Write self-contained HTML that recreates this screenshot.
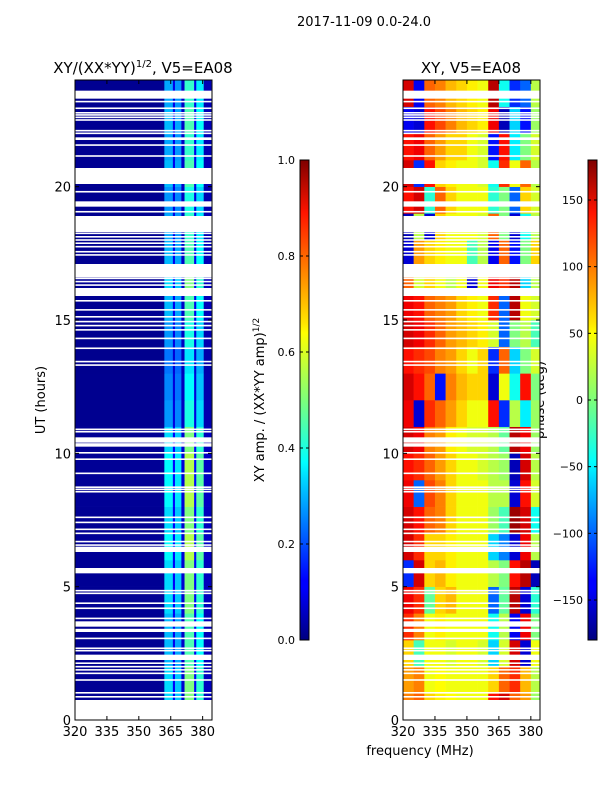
<!DOCTYPE html>
<html><head><meta charset="utf-8"><style>
body{margin:0;background:#fff;}
svg{display:block;font-family:"DejaVu Sans","Liberation Sans",sans-serif;}
</style></head><body>
<svg id="fig" width="600" height="800" viewBox="0 0 600 800">
<defs>
<linearGradient id="jet" x1="0" y1="1" x2="0" y2="0">
<stop offset="0" stop-color="#00007f"/><stop offset="0.11" stop-color="#0000ff"/>
<stop offset="0.125" stop-color="#0000ff"/><stop offset="0.34" stop-color="#00dcff"/>
<stop offset="0.37" stop-color="#0ff"/><stop offset="0.5" stop-color="#7dff7a"/>
<stop offset="0.64" stop-color="#ff0"/><stop offset="0.66" stop-color="#ffe600"/>
<stop offset="0.89" stop-color="#ff1400"/><stop offset="1" stop-color="#7f0000"/>
</linearGradient>
</defs>
<text x="364" y="26" font-size="13" text-anchor="middle">2017-11-09 0.0-24.0</text>
<text x="143" y="73" font-size="15" text-anchor="middle">XY/(XX*YY)<tspan font-size="10" dy="-6">1/2</tspan><tspan dy="6">, V5=EA08</tspan></text>
<text x="471" y="73" font-size="15" text-anchor="middle">XY, V5=EA08</text>
<text x="45" y="400" font-size="13" text-anchor="middle" transform="rotate(-90 45 400)">UT (hours)</text>
<text x="420" y="755" font-size="13" text-anchor="middle">frequency (MHz)</text>
<text x="264" y="400" font-size="13" text-anchor="middle" transform="rotate(-90 264 400)">XY amp. / (XX*YY amp)<tspan font-size="9" dy="-5">1/2</tspan></text>
<text x="544" y="400" font-size="13" text-anchor="middle" transform="rotate(-90 544 400)">phase (deg)</text>
<g id="left"></g><g id="right"></g><g id="cbars"></g>
</svg>
<script>
const hours=[0,1,2,3,4,5,6,7,8,9,10,11,12,13,14,15,16,17,18,19,20,21,22,23];
const ampFreqEdges=[320,362,366,367,370,371.5,376,377,380.5,384];
const ampCols=[0.02,0.34,0.12,0.32,0.08,0.5,0.12,0.42,0.06];
const ampHourGain=[1,1,0.9,0.9,1,1,1.1,1,1.1,1.1,1,0.8,0.75,0.7,0.8,0.9,1,0.9,0.85,0.8,0.9,0.85,0.9,0.85];
const phaseFreqs=[320,325,330,335,340,345,350,355,360,365,370,375,380];
const phase=[
[90,100,60,50,45,40,40,40,130,150,100,80,10],
[80,90,40,45,40,40,40,40,60,100,120,70,20],
[60,-20,40,40,30,40,40,30,-60,30,150,-150,40],
[120,90,40,50,40,40,40,40,-40,20,-140,140,0],
[140,120,-10,60,70,40,40,40,-100,-10,160,-150,-30],
[-120,150,60,70,50,40,40,40,20,0,130,160,-160],
[150,120,60,60,50,40,40,40,-60,-90,-150,140,20],
[150,130,100,90,60,40,40,40,10,-20,170,150,-40],
[140,-100,110,90,60,40,40,40,20,20,-150,130,30],
[130,120,100,80,60,40,40,30,20,10,-160,150,20],
[150,140,90,80,50,40,30,30,20,-10,160,140,10],
[140,-150,120,100,80,60,40,40,130,-120,20,-50,10],
[150,130,100,-130,90,70,60,60,-150,40,-40,130,0],
[130,120,110,90,80,60,40,60,-120,100,-60,0,30],
[150,140,120,100,80,70,60,50,30,-100,0,20,-20],
[140,130,100,90,80,60,50,40,120,-100,160,40,30],
[100,30,60,40,20,40,-150,40,140,120,160,-60,20],
[-150,80,60,50,40,40,-20,20,-140,100,-130,0,60],
[-160,20,-150,60,40,40,40,30,100,0,-150,-40,20],
[130,150,-30,100,60,40,40,40,-30,0,-100,60,30],
[150,-120,130,60,50,40,40,30,-40,120,40,100,20],
[130,140,100,80,60,60,40,30,-130,130,-50,0,30],
[-140,-150,130,110,90,70,60,50,140,-160,-60,-130,10],
[150,-140,100,90,70,60,50,40,160,-40,-120,-100,20]];
const gapStart=[23.3,21.75,20.1,19.25,18.3,16.6,15.9,10.4,10.25,6.3,5.5,3.5,3.3,2.25,0];
const gapEnd=[23.6,21.85,20.7,19.45,18.9,17.1,16.2,10.6,10.38,6.5,5.7,3.7,3.42,2.45,0.75];
const thinGaps=[23.19,22.94,22.77,22.69,22.6,22.5,22.1,22.0,21.56,21.15,19.81,19.06,18.25,18.12,18.0,17.88,17.75,17.56,17.44,16.56,16.44,16.31,15.72,15.38,15.12,14.94,14.79,14.63,14.31,13.94,13.44,13.31,10.9,10.81,10.02,9.78,9.25,8.73,8.65,8.56,7.6,7.41,7.15,7.0,6.69,6.56,4.85,4.75,4.38,4.19,3.81,3.06,2.69,2.6,2.13,2.0,1.88,1.75,1.5,1.02,0.87];
const yTicks=[0,5,10,15,20];
const xTicks=[320,335,350,365,380];
const ampTicks=[0.0,0.2,0.4,0.6,0.8,1.0];
const phaseTicks=[-150,-100,-50,0,50,100,150];

const NS="http://www.w3.org/2000/svg";
function jet(x){x=Math.max(0,Math.min(1,x));const c=v=>Math.round(255*Math.max(0,Math.min(1,v)));
return `rgb(${c(1.5-Math.abs(4*x-3))},${c(1.5-Math.abs(4*x-2))},${c(1.5-Math.abs(4*x-1))})`;}
function mk(p,tag,at){const e=document.createElementNS(NS,tag);for(const k in at)e.setAttribute(k,at[k]);p.appendChild(e);return e;}
const yTop=80,yBot=720;
const yS=h=>yBot-(h/24)*(yBot-yTop);
function panel(x0,x1,f0,f1){return f=>x0+(f-f0)/(f1-f0)*(x1-x0);}
const xL=panel(75,212,320,384.4), xR=panel(403,540,320,384.3);

function drawGapsAxes(g,x0,x1,xs,pfx){
  gapStart.forEach((s,i)=>{const r=mk(g,'rect',{x:x0,y:yS(gapEnd[i]),width:x1-x0,height:yS(s)-yS(gapEnd[i]),fill:'#fff'});
  });
  thinGaps.forEach(h=>{const r=mk(g,'rect',{x:x0,y:yS(h)-0.8,width:x1-x0,height:1.6,fill:'#fff'});
  });
  const fr=mk(g,'rect',{x:x0,y:yTop,width:x1-x0,height:yBot-yTop,fill:'none',stroke:'#000','stroke-width':1});
  
  yTicks.forEach(t=>{const y=yS(t);mk(g,'line',{x1:x0,x2:x0+4,y1:y,y2:y,stroke:'#000'});mk(g,'line',{x1:x1,x2:x1-4,y1:y,y2:y,stroke:'#000'});
   const tx=mk(g,'text',{x:x0-4,y:y+5,'font-size':13,'text-anchor':'end'});tx.textContent=t;
   });
  xTicks.forEach(t=>{const x=xs(t);mk(g,'line',{x1:x,x2:x,y1:yBot,y2:yBot-4,stroke:'#000'});mk(g,'line',{x1:x,x2:x,y1:yTop,y2:yTop+4,stroke:'#000'});
   const tx=mk(g,'text',{x:x,y:yBot+16,'font-size':13,'text-anchor':'middle'});tx.textContent=t;
   });
}
const L=document.getElementById('left'),R=document.getElementById('right');
hours.forEach((h,hi)=>{
  ampCols.forEach((a,ci)=>{const x=xL(ampFreqEdges[ci]),w=xL(ampFreqEdges[ci+1])-x;
   const r=mk(L,'rect',{x:x,y:yS(h+1),width:w+0.3,height:yS(h)-yS(h+1)+0.3,fill:jet(a*ampHourGain[hi])});
   });
  phaseFreqs.forEach((f,ci)=>{const x=xR(f),w=xR(ci+1<phaseFreqs.length?phaseFreqs[ci+1]:384.3)-x;
   const r=mk(R,'rect',{x:x,y:yS(h+1),width:w+0.3,height:yS(h)-yS(h+1)+0.3,fill:jet((phase[hi][ci]+180)/360)});
   });
});
drawGapsAxes(L,75,212,xL,'left');
drawGapsAxes(R,403,540,xR,'right');
const C=document.getElementById('cbars');
function cbar(x,lo,hi,ticks,fmt,pfx){
  const r=mk(C,'rect',{x:x,y:160,width:9,height:480,fill:'url(#jet)',stroke:'#000','stroke-width':1});
  
  ticks.forEach(t=>{const y=640-(t-lo)/(hi-lo)*480;mk(C,'line',{x1:x,x2:x+3,y1:y,y2:y,stroke:'#000'});mk(C,'line',{x1:x+9,x2:x+6,y1:y,y2:y,stroke:'#000'});
   const tx=mk(C,'text',{x:x-5,y:y+4,'font-size':11,'text-anchor':'end'});tx.textContent=fmt(t);
   });
}
cbar(300,0,1,ampTicks,t=>t.toFixed(1),'amp');
cbar(588,-180,180,phaseTicks,t=>t<0?'\u2212'+(-t):String(t),'phase');
</script>
</body></html>
